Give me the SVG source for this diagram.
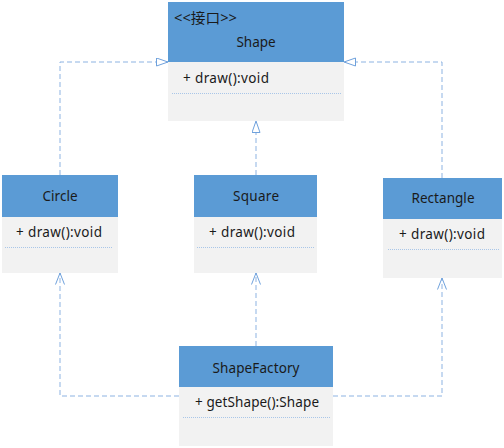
<svg xmlns="http://www.w3.org/2000/svg" width="504" height="448" viewBox="0 0 504 448">
<style>
.hd{fill:#5B9BD5}
.bd{fill:#F2F2F2}
.sep{stroke:#A9C6E8;stroke-width:1;stroke-dasharray:1,1}
.t{font-family:"Noto Sans","Liberation Sans",sans-serif;font-size:13.5px;fill:#1a1a1a}
.c{text-anchor:middle}
.cn{fill:none;stroke:#8DB3E2;stroke-width:1;stroke-dasharray:5,3}
</style>
<defs>
<marker id="tri" markerUnits="userSpaceOnUse" markerWidth="14" markerHeight="10" refX="12" refY="4.5" orient="auto">
<path d="M0.5,0.5 L12,4.5 L0.5,8.5 Z" fill="#fff" stroke="#6FA1DC" stroke-width="1"/>
</marker>
<marker id="opn" markerUnits="userSpaceOnUse" markerWidth="14" markerHeight="11" refX="12" refY="5" orient="auto">
<path d="M0.5,0.5 L12,5 L0.5,9.5" fill="none" stroke="#6FA1DC" stroke-width="1"/>
</marker>
</defs>
<rect width="504" height="448" fill="#fff"/>
<g id="connectors">
<path class="cn" d="M60,175 V62 H168" marker-end="url(#tri)"/>
<path class="cn" d="M442,178 V62 H344" marker-end="url(#tri)"/>
<path class="cn" d="M256,175 V121" marker-end="url(#tri)"/>
<path class="cn" d="M179,396 H60 V273" marker-end="url(#opn)"/>
<path class="cn" d="M256,346 V273" marker-end="url(#opn)"/>
<path class="cn" d="M333,396 H442 V278" marker-end="url(#opn)"/>
</g>
<g id="shape">
<rect class="hd" x="168" y="2" width="176" height="60"/>
<rect class="bd" x="168" y="62" width="176" height="59"/>
<text class="t" x="174" y="23" textLength="63" lengthAdjust="spacingAndGlyphs" style="font-family:'Noto Sans','Noto Sans CJK SC',sans-serif;font-size:14px">&lt;&lt;接口&gt;&gt;</text>
<text class="t c" x="256" y="47" textLength="39">Shape</text>
<text class="t" x="183" y="83" textLength="86">+ draw():void</text>
<line class="sep" x1="172" y1="93.5" x2="341" y2="93.5"/>
</g>
<g id="circle">
<rect class="hd" x="2" y="175" width="116" height="42"/>
<rect class="bd" x="2" y="217" width="116" height="56"/>
<text class="t c" x="60" y="201" textLength="35">Circle</text>
<text class="t" x="16" y="237" textLength="86">+ draw():void</text>
<line class="sep" x1="5" y1="247.5" x2="113" y2="247.5"/>
</g>
<g id="square">
<rect class="hd" x="194" y="175" width="123" height="42"/>
<rect class="bd" x="194" y="217" width="123" height="56"/>
<text class="t c" x="256" y="201" textLength="46">Square</text>
<text class="t" x="209" y="237" textLength="86">+ draw():void</text>
<line class="sep" x1="197" y1="247.5" x2="315" y2="247.5"/>
</g>
<g id="rectangle">
<rect class="hd" x="383" y="178" width="119" height="41"/>
<rect class="bd" x="383" y="219" width="119" height="59"/>
<text class="t c" x="443" y="203" textLength="63">Rectangle</text>
<text class="t" x="399" y="239" textLength="86">+ draw():void</text>
<line class="sep" x1="388" y1="249.5" x2="500" y2="249.5"/>
</g>
<g id="shapefactory">
<rect class="hd" x="179" y="346" width="154" height="41"/>
<rect class="bd" x="179" y="387" width="154" height="59"/>
<text class="t c" x="256" y="373" textLength="87">ShapeFactory</text>
<text class="t" x="195" y="407" textLength="124">+ getShape():Shape</text>
<line class="sep" x1="183" y1="417.5" x2="330" y2="417.5"/>
</g>
</svg>
